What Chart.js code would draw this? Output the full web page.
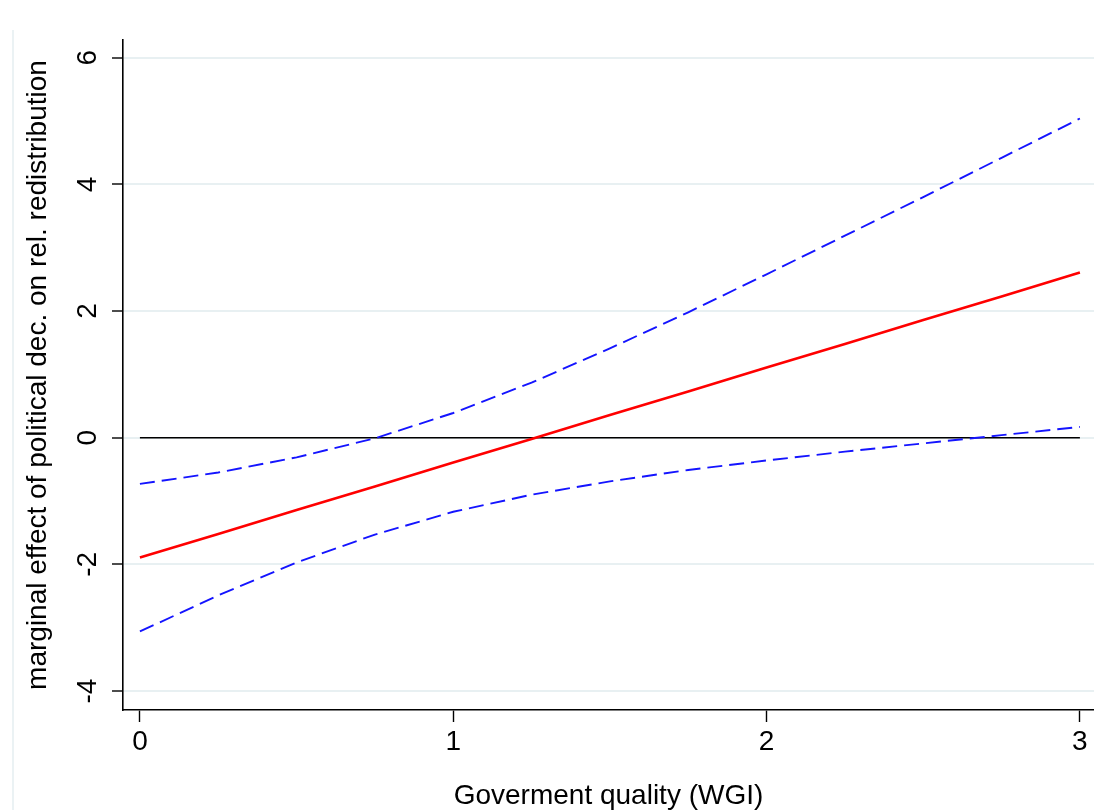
<!DOCTYPE html>
<html>
<head>
<meta charset="utf-8">
<title>Marginal effect</title>
<script src="https://cdn.jsdelivr.net/npm/chart.js@4.4.0/dist/chart.umd.min.js"></script>
<style>
  html, body { margin: 0; padding: 0; background: #fff; }
</style>
</head>
<body>
<canvas id="chart" width="1094" height="810"></canvas>
<script>
// values
const quality  = [0, 0.25, 0.5, 0.75, 1, 1.25, 1.5, 1.75, 2, 2.25, 2.5, 2.75, 3];
const effect   = [-1.89, -1.52, -1.14, -0.77, -0.39, -0.02, 0.36, 0.73, 1.11, 1.48, 1.86, 2.23, 2.61];
const upperCI  = [-0.73, -0.55, -0.31, -0.01, 0.39, 0.87, 1.41, 1.98, 2.58, 3.19, 3.80, 4.42, 5.04];
const lowerCI  = [-3.06, -2.49, -1.97, -1.53, -1.17, -0.90, -0.69, -0.51, -0.36, -0.22, -0.09, 0.04, 0.17];
const zeroLine = [0, 0];
const xTicks = [0, 1, 2, 3];
const yTicks = [-4, -2, 0, 2, 4, 6];

const font = "'Liberation Sans', Arial, Helvetica, sans-serif";

function pts(ys) {
  return ys.map((y, i) => ({ x: quality[i], y: y }));
}

// faint outer frame line on the left, like the Stata graph region
const frameLine = {
  id: 'frameLine',
  beforeDraw(chart) {
    const ctx = chart.ctx;
    ctx.save();
    ctx.fillStyle = '#fff';
    ctx.fillRect(0, 0, chart.width, chart.height);
    ctx.strokeStyle = '#e4eef0';
    ctx.lineWidth = 1.5;
    ctx.beginPath();
    ctx.moveTo(13, 30);
    ctx.lineTo(13, chart.height);
    ctx.stroke();
    ctx.restore();
  }
};

new Chart(document.getElementById('chart'), {
  type: 'line',
  data: {
    datasets: [
      { data: pts(effect), borderColor: '#ff0000', borderWidth: 2.6 },
      { data: pts(upperCI), borderColor: '#1414ff', borderWidth: 1.9, borderDash: [15, 7] },
      { data: pts(lowerCI), borderColor: '#1414ff', borderWidth: 1.9, borderDash: [15, 7] },
      { data: [{ x: quality[0], y: zeroLine[0] }, { x: quality[quality.length - 1], y: zeroLine[1] }],
        borderColor: '#000', borderWidth: 1.6 }
    ]
  },
  options: {
    responsive: false,
    devicePixelRatio: 1,
    animation: false,
    layout: { padding: { top: 40, left: 0, right: 0, bottom: 0 } },
    elements: { point: { radius: 0 }, line: { tension: 0, borderCapStyle: 'butt' } },
    plugins: { legend: { display: false }, tooltip: { enabled: false } },
    scales: {
      x: {
        type: 'linear',
        min: -0.054,
        max: 3.045,
        afterBuildTicks: s => { s.ticks = xTicks.map(v => ({ value: v })); },
        afterFit: s => { s.height = 100; },
        grid: { drawOnChartArea: false, tickLength: 12, tickColor: '#000', tickWidth: 1.4 },
        border: { color: '#000', width: 1.6 },
        ticks: { color: '#000', font: { family: font, size: 28 }, padding: 3, maxRotation: 0 },
        title: { display: true, text: 'Goverment quality (WGI)', color: '#000',
                 font: { family: font, size: 28, lineHeight: 1 }, padding: { top: 0, bottom: 0 } }
      },
      y: {
        type: 'linear',
        min: -4.3,
        max: 6.28,
        afterBuildTicks: s => { s.ticks = yTicks.map(v => ({ value: v })); },
        afterFit: s => { s.width = 123; },
        grid: { color: '#e8f0f2', lineWidth: 2, tickLength: 11, tickColor: '#000', tickWidth: 1.4 },
        border: { color: '#000', width: 1.6 },
        ticks: { color: '#000', font: { family: font, size: 28 }, padding: 11,
                 minRotation: 90, maxRotation: 90, crossAlign: 'center' },
        title: { display: true, text: 'marginal effect of political dec. on rel. redistribution', color: '#000',
                 font: { family: font, size: 28, lineHeight: 1 }, padding: { top: 24, bottom: 0 } }
      }
    }
  },
  plugins: [frameLine]
});
</script>
</body>
</html>
